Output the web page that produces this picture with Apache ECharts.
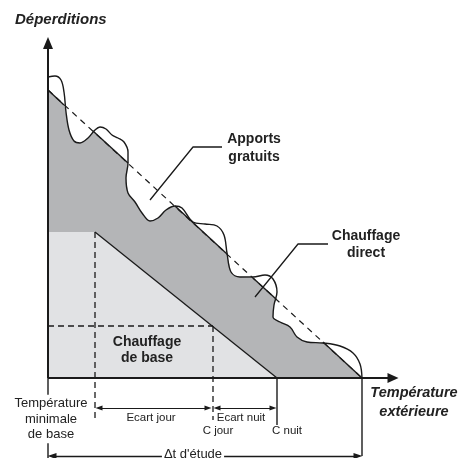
<!DOCTYPE html>
<html>
<head>
<meta charset="utf-8">
<script src="https://cdn.jsdelivr.net/npm/echarts@6/dist/echarts.min.js"></script>
<style>
html, body { margin: 0; padding: 0; background: #fff; }
#d1 { width: 460px; height: 458px; }
</style>
</head>
<body>
<div id="d1"></div>
<script>
// unités du schéma : x = température (origine sur l'axe), y = déperditions
var droite = [[0, 288], [314, 0]];
var segmentsPleins = [
    [[0, 288], [16, 273]],
    [[45, 247], [80, 215]],
    [[127, 172], [179, 124]],
    [[205, 100], [228, 79]],
    [[275, 36], [314, 0]]
];
var vague = [
    [0, 301], [7, 302], [13, 298], [16, 286], [18, 266], [21, 248], [26, 237], [32, 235],
    [40, 240], [47, 248], [52, 251], [58, 249], [64, 243], [70, 240], [76, 236], [80, 226],
    [80, 215], [78, 200], [80, 185], [87, 176], [94, 165], [102, 157], [110, 160], [118, 168],
    [127, 172], [134, 170], [145, 156], [157, 154], [169, 152], [176, 143], [179, 125], [183, 106],
    [192, 101], [205, 101], [217, 103], [225, 99], [229, 86], [226, 73], [225, 61], [232, 56],
    [242, 51], [249, 41], [259, 36], [275, 35], [292, 32], [305, 25], [312, 14], [314, 0]
];
// bord supérieur de la zone gris foncé (min de la droite et de la vague)
var bordGris = [
    [0, 288], [16, 273], [17, 270], [18, 265], [19, 258], [21, 248], [23, 242], [26, 237], [29, 235.5],
    [32, 235], [36, 237], [40, 240], [45, 247],
    [80, 215], [79, 207], [78, 200], [79, 192], [80, 185], [83, 180], [87, 176], [94, 165], [98, 160],
    [102, 157], [106, 157.5], [110, 160], [114, 164], [118, 168], [122, 170.5],
    [127, 172], [179, 124], [181, 115], [183, 106], [187, 102.5], [192, 101], [198, 100.5], [205, 100],
    [228, 79], [227, 76], [226, 73], [225, 67], [225, 61], [228, 58], [232, 56], [237, 54], [242, 51],
    [245, 46], [249, 41], [254, 38], [259, 36], [267, 35.3], [275, 35], [314, 0]
];
var chauffageBase = [[0, 146], [47, 146], [229, 0]];
var penteBase = [[47, 146], [229, 0]];
var pointilles = [
    [[47, 146], [47, -42]],
    [[0, 52], [165, 52]],
    [[165, 52], [165, -42]]
];
var traits = [
    [[0, 0], [0, -80]],
    [[229, 0], [229, -47]],
    [[314, 0], [314, -78]]
];
var renvoiApports = [[102, 178], [145, 231], [174, 231]];
var renvoiDirect = [[207, 81], [250, 134], [280, 134]];
var axeX = [[0, 0], [345, 0]];
var axeY = [[0, 0], [0, 335]];
var ecartJour = [[51, -30], [160, -30]];
var ecartNuit = [[169, -30], [225, -30]];
var deltaEtude = [[4, -78], [310, -78]];

var noir = '#1a1a1a';
var police = '"Liberation Sans", Arial, sans-serif';

var myChart = echarts.init(document.getElementById('d1'));

function ligne(data, z, largeur, type) {
    return {
        type: 'line',
        data: data,
        z: z,
        clip: false,
        silent: true,
        showSymbol: false,
        symbol: 'none',
        lineStyle: { color: noir, width: largeur, type: type || 'solid' }
    };
}

function fleche(pts, debut, taille, largeur) {
    return [
        { coord: pts[0], symbol: debut ? 'triangle' : 'none', symbolSize: taille },
        { coord: pts[1], symbol: 'triangle', symbolSize: taille, lineStyle: { width: largeur } }
    ];
}

function texte(t, x, y, font, align, lh, fond) {
    return {
        type: 'text',
        z: 100,
        style: {
            text: t,
            x: x,
            y: y,
            font: font,
            fill: '#222',
            align: align || 'center',
            verticalAlign: 'middle',
            lineHeight: lh || 16,
            backgroundColor: fond ? '#fff' : null,
            padding: fond ? [1, 2] : 0
        }
    };
}

var series = [
    {
        type: 'line',
        data: bordGris,
        z: 1,
        symbol: 'none',
        silent: true,
        lineStyle: { width: 0 },
        areaStyle: { color: '#b4b5b7', opacity: 1, origin: 0 }
    },
    {
        type: 'line',
        data: chauffageBase,
        z: 2,
        symbol: 'none',
        silent: true,
        lineStyle: { width: 0 },
        areaStyle: { color: '#e1e2e4', opacity: 1, origin: 0 }
    },
    ligne(penteBase, 3, 1.3),
    ligne(droite, 3, 1.2, [6, 5])
];
segmentsPleins.forEach(function (s) { series.push(ligne(s, 4, 1.4)); });
pointilles.forEach(function (s) { series.push(ligne(s, 4, 1.3, [6, 4])); });
traits.forEach(function (s) { series.push(ligne(s, 4, 1.4)); });
var v = ligne(vague, 5, 1.4);
v.smooth = 0.35;
series.push(v);
series.push(ligne(renvoiApports, 5, 1.3));
series.push(ligne(renvoiDirect, 5, 1.3));

// axes et cotes fléchées
series.push({
    type: 'line',
    data: [],
    z: 6,
    markLine: {
        silent: true,
        animation: false,
        label: { show: false },
        lineStyle: { color: noir, width: 1.2, type: 'solid' },
        data: [
            fleche(axeX, false, [10, 11], 2),
            fleche(axeY, false, [10, 12], 2),
            fleche(ecartJour, true, [5, 7], 1.2),
            fleche(ecartNuit, true, [5, 7], 1.2),
            fleche(deltaEtude, true, [6, 9], 1.3)
        ]
    }
});

var option1 = {
    animation: false,
    grid: { left: 0, right: 0, top: 0, bottom: 0 },
    xAxis: { type: 'value', min: -48, max: 412, show: false },
    yAxis: { type: 'value', min: -80, max: 378, show: false },
    series: series,
    graphic: [
        texte('Déperditions', 15, 20, 'italic bold 15px ' + police, 'left'),
        texte('Apports\ngratuits', 254, 148, 'bold 14px ' + police, 'center', 18),
        texte('Chauffage\ndirect', 366, 245, 'bold 14px ' + police, 'center', 17),
        texte('Chauffage\nde base', 147, 350, 'bold 14px ' + police, 'center', 16),
        texte('Température\nextérieure', 414, 402, 'italic bold 14.5px ' + police, 'center', 19),
        texte('Température\nminimale\nde base', 51, 419, '13px ' + police, 'center', 15.5, true),
        texte('Ecart jour', 151, 418, '11.5px ' + police),
        texte('Ecart nuit', 241, 418, '11.5px ' + police),
        texte('C jour', 218, 431, '11.5px ' + police),
        texte('C nuit', 287, 431, '11.5px ' + police),
        texte('\u0394t d\'étude', 193, 454, '13px ' + police, 'center', 16, true)
    ]
};

myChart.setOption(option1);
</script>
</body>
</html>
